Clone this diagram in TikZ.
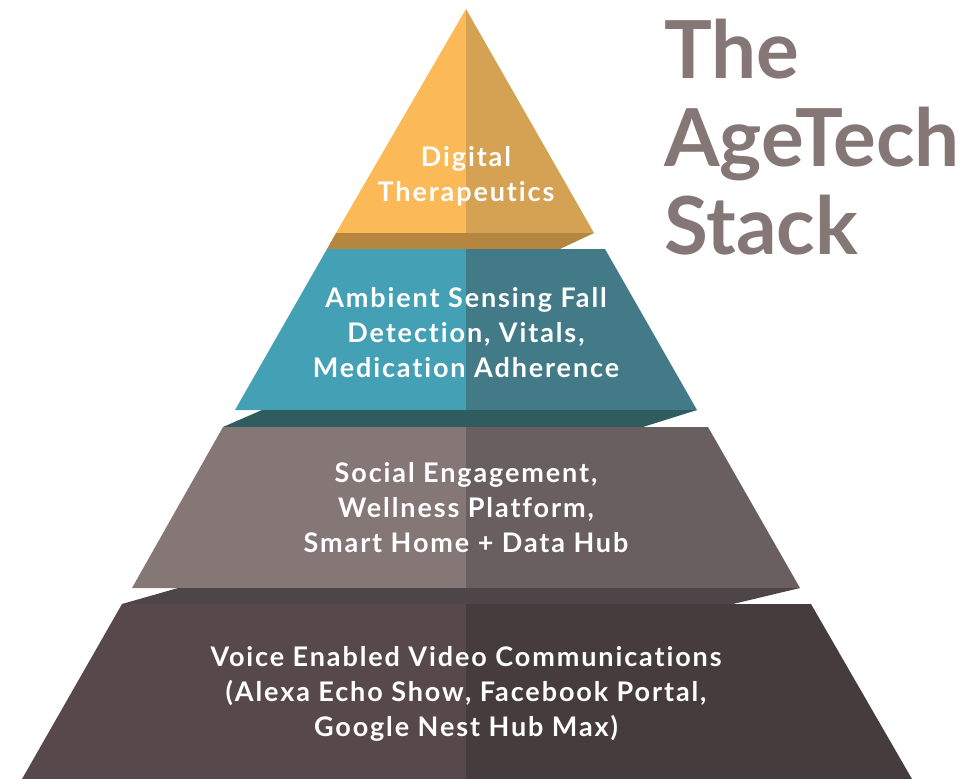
\documentclass[tikz,border=0pt]{standalone}
\usepackage{fontspec}
\setmainfont{Lato}
\newfontfamily\tierfont{Lato}[LetterSpace=7, Ligatures=NoCommon]
\usepackage{tikz}

\definecolor{goldL}{HTML}{FBB957}
\definecolor{goldR}{HTML}{D5A152}
\definecolor{goldS}{HTML}{B5863F}
\definecolor{tealL}{HTML}{44A0B4}
\definecolor{tealR}{HTML}{427B87}
\definecolor{tealS}{HTML}{2F5D5F}
\definecolor{greyL}{HTML}{857776}
\definecolor{greyR}{HTML}{6A5F60}
\definecolor{greyS}{HTML}{4D4548}
\definecolor{baseL}{HTML}{57494B}
\definecolor{baseR}{HTML}{463C3D}

\begin{document}
\begin{tikzpicture}[x=1pt, y=-1pt,
    label/.style={text=white, align=center, font=\tierfont\bfseries\fontsize{27}{35}\selectfont}]
    \useasboundingbox (0,0) rectangle (978,779);

    % top: digital therapeutics
    \fill[goldL] (466,9) -- (336,233) -- (466,233) -- cycle;
    \fill[goldR] (466,9) -- (594,233) -- (466,233) -- cycle;
    \fill[goldS] (336,233) -- (594,233) -- (560,249) -- (327,249) -- cycle;

    % second: ambient sensing
    \fill[tealL] (327,249) -- (466,249) -- (466,410) -- (235,410) -- cycle;
    \fill[tealR] (466,249) -- (605,249) -- (697,410) -- (466,410) -- cycle;
    \fill[tealS] (262,410) -- (697,410) -- (643,427) -- (223,427) -- cycle;

    % third: social engagement
    \fill[greyL] (223,427) -- (466,427) -- (466,588) -- (132,588) -- cycle;
    \fill[greyR] (466,427) -- (708,427) -- (800,588) -- (466,588) -- cycle;
    \fill[greyS] (178,588) -- (800,588) -- (733,604) -- (122,604) -- cycle;

    % base: voice enabled video
    \fill[baseL] (122,604) -- (466,604) -- (466,779) -- (22,779) -- cycle;
    \fill[baseR] (466,604) -- (811,604) -- (912,779) -- (466,779) -- cycle;

    \node (digital) [label] at (466,176) {Digital\\Therapeutics};
    \node (ambient) [label] at (466,333) {Ambient Sensing Fall\\Detection, Vitals,\\Medication Adherence};
    \node (social) [label] at (466,508) {Social Engagement,\\Wellness Platform,\\Smart Home + Data Hub};
    \node (voice) [label] at (466,694) {Voice Enabled Video Communications\\(Alexa Echo Show, Facebook Portal,\\Google Nest Hub Max)};

    \node (title) [anchor=north west, align=left, inner sep=0pt, text=greyL,
        font=\bfseries\fontsize{80}{88}\selectfont] at (664,19) {The\\AgeTech\\Stack};
\end{tikzpicture}
\end{document}
